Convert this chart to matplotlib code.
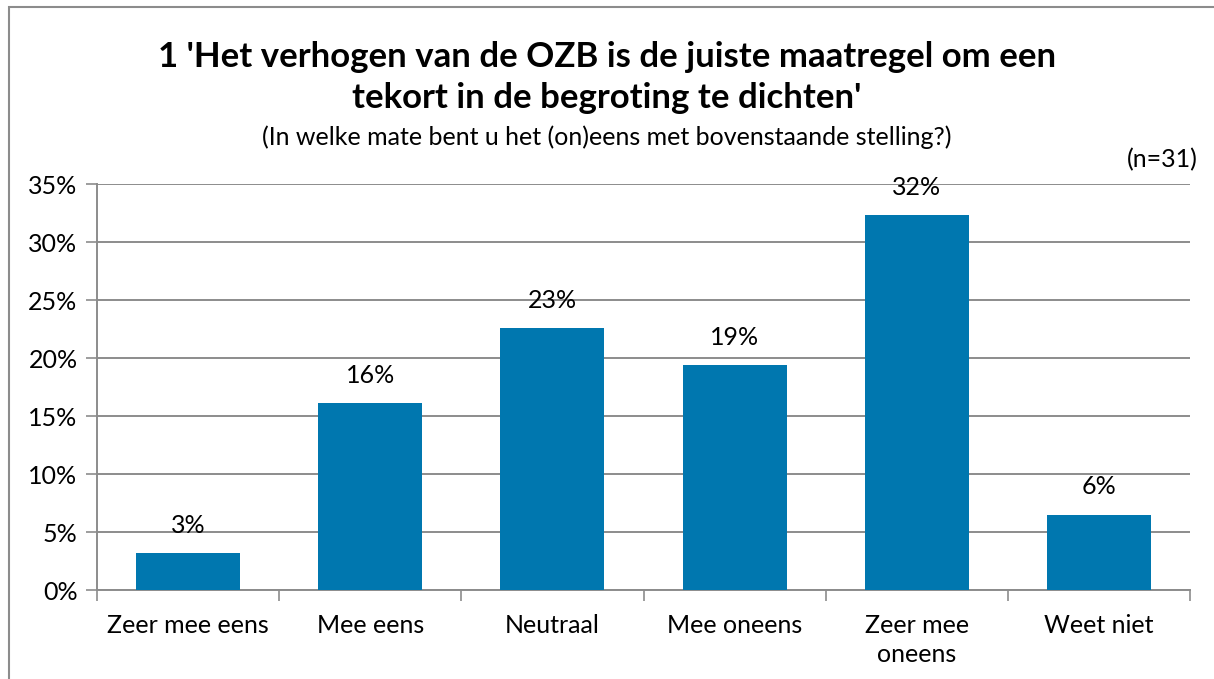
import matplotlib.pyplot as plt
import matplotlib.patches as patches
import numpy as np

plt.rcParams['font.family'] = ['Lato', 'DejaVu Sans']

categories = ["Zeer mee eens", "Mee eens", "Neutraal", "Mee oneens", "Zeer mee\noneens", "Weet niet"]
values = [3.2, 16.1, 22.6, 19.4, 32.3, 6.5]
labels = ["3%", "16%", "23%", "19%", "32%", "6%"]
yticks = [0, 5, 10, 15, 20, 25, 30, 35]

BLUE = "#0077AF"
GRID = "#8C8C8C"

fig = plt.figure(figsize=(12.14, 6.79), dpi=100)
ax = fig.add_axes([97 / 1214, 1 - 590 / 679, (1190 - 97) / 1214, (590 - 184) / 679])

x = np.arange(len(categories))
ax.bar(x, values, width=0.57, color=BLUE, zorder=3)
for xi, v, lab in zip(x, values, labels):
    ax.text(xi, v + 2.4, lab, ha="center", va="center", fontsize=18, zorder=4)

ax.set_xlim(-0.5, len(categories) - 0.5)
ax.set_ylim(0, 35)
ax.set_yticks(yticks)
ax.set_yticklabels([f"{t}%" for t in yticks], fontsize=18)
ax.yaxis.grid(True, color=GRID, linewidth=1.4, zorder=0)
ax.tick_params(axis="y", length=8, width=1.2, color=GRID, pad=6)

ax.set_xticks(np.arange(-0.5, len(categories), 1.0))
ax.set_xticklabels([])
ax.set_xticks(x, minor=True)
ax.set_xticklabels(categories, minor=True, fontsize=18, linespacing=1.35, va="top")
ax.tick_params(axis="x", which="major", length=8, width=1.2, color=GRID)
ax.tick_params(axis="x", which="minor", length=0, pad=17)

for s in ["top", "right"]:
    ax.spines[s].set_visible(False)
for s in ["left", "bottom"]:
    ax.spines[s].set_color(GRID)
    ax.spines[s].set_linewidth(1.4)

fig.text(0.5, 1 - 57 / 679, "1 'Het verhogen van de OZB is de juiste maatregel om een",
         ha="center", va="center", fontsize=25, fontweight="bold")
fig.text(0.5, 1 - 98 / 679, "tekort in de begroting te dichten'",
         ha="center", va="center", fontsize=25, fontweight="bold")
fig.text(0.5, 1 - 137 / 679, "(In welke mate bent u het (on)eens met bovenstaande stelling?)",
         ha="center", va="center", fontsize=18)
fig.text(1198 / 1214, 1 - 160 / 679, "(n=31)", ha="right", va="center", fontsize=18)

border = patches.Rectangle((9 / 1214, -0.1), 1.2, 1.1 - 7 / 679, transform=fig.transFigure,
                           fill=False, edgecolor="#8C8C8C", linewidth=1.5)
fig.add_artist(border)

fig.savefig("out.png", dpi=100)
